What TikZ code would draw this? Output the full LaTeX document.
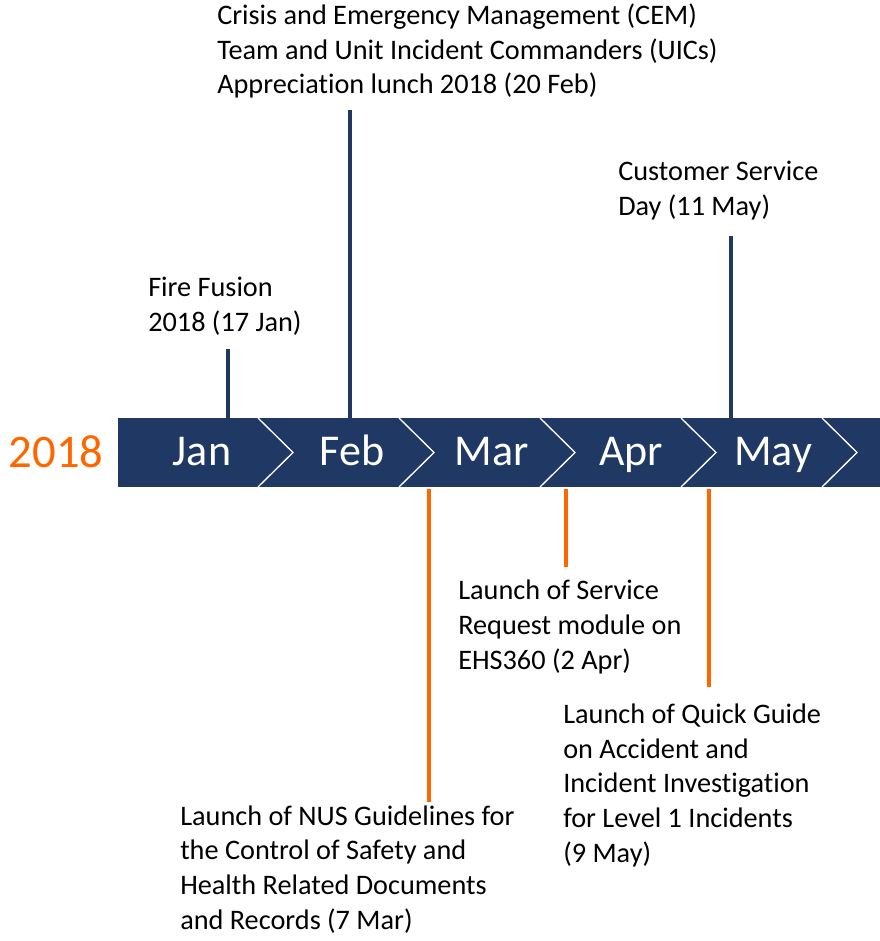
\documentclass[tikz,border=0pt]{standalone}
\usepackage{xcolor}
\usepackage{tikz}
\usepackage{fontspec}
\setmainfont{Carlito}[Ligatures = NoCommon]
\definecolor{navy}{RGB}{32, 56, 100}
\definecolor{orangeline}{RGB}{255, 102, 0}

\begin{document}
\begin{tikzpicture}[x = 0.75pt, y = -0.75pt]
    \useasboundingbox (0, 0) rectangle (880, 941);
    {
      \fill[navy] (118, 418) rectangle (880, 487);
      \draw[white, line width = 1pt] (258, 418) -- (293, 452.5) -- (258, 487);
      \draw[white, line width = 1pt] (399, 418) -- (434, 452.5) -- (399, 487);
      \draw[white, line width = 1pt] (540, 418) -- (575, 452.5) -- (540, 487);
      \draw[white, line width = 1pt] (681, 418) -- (716, 452.5) -- (681, 487);
      \draw[white, line width = 1pt] (822, 418) -- (857, 452.5) -- (822, 487);
    }
    {
      \node[anchor = base, orangeline, inner sep = 0, font = \fontsize{35}{40}\selectfont] (year) at (56, 467) {2018};
      \node[anchor = base, white, inner sep = 0, font = \fontsize{33}{40}\selectfont] (jan) at (202, 465) {Jan};
      \node[anchor = base, white, inner sep = 0, font = \fontsize{33}{40}\selectfont] (feb) at (352, 465) {Feb};
      \node[anchor = base, white, inner sep = 0, font = \fontsize{33}{40}\selectfont] (mar) at (492, 465) {Mar};
      \node[anchor = base, white, inner sep = 0, font = \fontsize{33}{40}\selectfont] (apr) at (631, 465) {Apr};
      \node[anchor = base, white, inner sep = 0, font = \fontsize{33}{40}\selectfont] (may) at (773, 465) {May};
    }
    {
      \node[anchor = base west, align = left, inner sep = 0, font = \fontsize{21.2}{26}\selectfont] (cem) at (217, 94)
        {Crisis and Emergency Management (CEM)\\Team and Unit Incident Commanders (UICs)\\Appreciation lunch 2018 (20 Feb)};
      \node[anchor = base west, align = left, inner sep = 0, font = \fontsize{21.2}{26}\selectfont] (fire) at (148, 331)
        {Fire Fusion\\2018 (17 Jan)};
      \node[anchor = base west, align = left, inner sep = 0, font = \fontsize{21.2}{26}\selectfont] (service) at (618, 215)
        {Customer Service\\Day (11 May)};
      \node[anchor = base west, align = left, inner sep = 0, font = \fontsize{21.2}{26}\selectfont] (request) at (458, 669)
        {Launch of Service\\Request module on\\EHS360 (2 Apr)};
      \node[anchor = base west, align = left, inner sep = 0, font = \fontsize{21.2}{26}\selectfont] (nus) at (180, 929)
        {Launch of NUS Guidelines for\\the Control of Safety and\\Health Related Documents\\and Records (7 Mar)};
      \node[anchor = base west, align = left, inner sep = 0, font = \fontsize{21.2}{26}\selectfont] (guide) at (563, 862)
        {Launch of Quick Guide\\on Accident and\\Incident Investigation\\for Level 1 Incidents\\(9 May)};
    }
    \coordinate (fire top) at (228, 349);
    \coordinate (fire foot) at (228, 418);
    \coordinate (cem top) at (350, 110);
    \coordinate (cem foot) at (350, 418);
    \coordinate (service top) at (731, 236);
    \coordinate (service foot) at (731, 418);
    \coordinate (nus top) at (429, 489);
    \coordinate (nus foot) at (429, 802);
    \coordinate (request top) at (566, 489);
    \coordinate (request foot) at (566, 567);
    \coordinate (guide top) at (709, 489);
    \coordinate (guide foot) at (709, 687);
    \draw[navy, line width = 3pt] (fire foot) -- (fire top);
    \draw[navy, line width = 3pt] (cem foot) -- (cem top);
    \draw[navy, line width = 3pt] (service foot) -- (service top);
    \draw[orangeline, line width = 3pt] (nus top) -- (nus foot);
    \draw[orangeline, line width = 3pt] (request top) -- (request foot);
    \draw[orangeline, line width = 3pt] (guide top) -- (guide foot);
  \end{tikzpicture}
\end{document}
